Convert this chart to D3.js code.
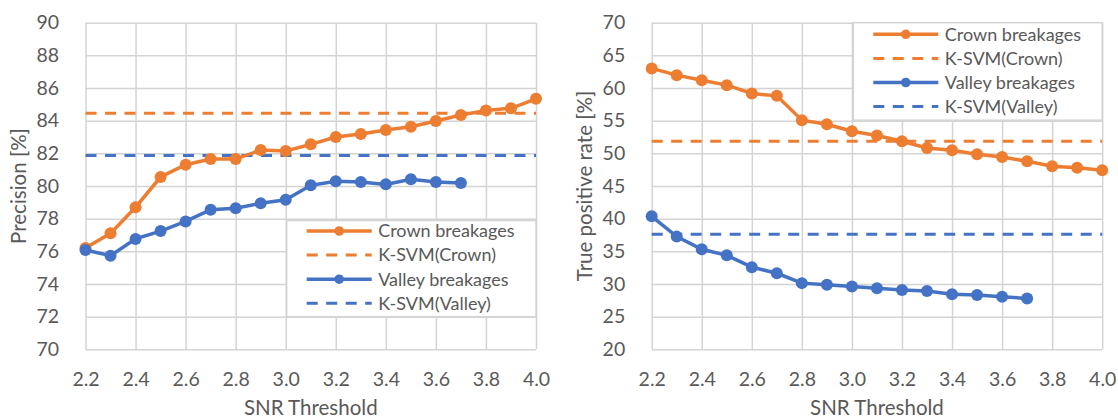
<!DOCTYPE html>
<html lang="en">
<head>
<meta charset="UTF-8" />
<title>SNR threshold</title>
<script src="https://d3js.org/d3.v7.min.js"></script>
<style>
  body { margin: 0; background: #fff; }
  text { font-family: Lato, "Noto Sans", sans-serif; fill: #595959; }
  .gridlines .domain { display: none; }
  .gridlines line { stroke: #d4d4d4; stroke-width: 1.5; }
  .labels .domain { display: none; }
</style>
</head>
<body>
<svg id="chart" width="1118" height="420"></svg>
<script>
// SNR threshold values (x)
const snr = [2.2, 2.3, 2.4, 2.5, 2.6, 2.7, 2.8, 2.9, 3.0, 3.1, 3.2, 3.3, 3.4, 3.5, 3.6, 3.7, 3.8, 3.9, 4.0];
const xTicks = [2.2, 2.4, 2.6, 2.8, 3.0, 3.2, 3.4, 3.6, 3.8, 4.0];

// precision [%]
const crownPrecision = [76.2, 77.1, 78.7, 80.55, 81.3, 81.65, 81.65, 82.2, 82.15, 82.55, 83.0, 83.18, 83.43, 83.63, 83.98, 84.35, 84.62, 84.76, 85.34];
const valleyPrecision = [76.08, 75.73, 76.76, 77.24, 77.83, 78.55, 78.64, 78.94, 79.16, 80.04, 80.29, 80.25, 80.1, 80.41, 80.25, 80.18];
const ksvmPrecision = [84.46, 81.87]; // crown, valley
const precisionTicks = [70, 72, 74, 76, 78, 80, 82, 84, 86, 88, 90];

// true positive rate [%]
const crownTpr = [63.0, 61.97, 61.2, 60.44, 59.16, 58.8, 55.07, 54.46, 53.38, 52.72, 51.85, 50.83, 50.47, 49.85, 49.44, 48.78, 48.01, 47.81, 47.4];
const valleyTpr = [40.36, 37.25, 35.32, 34.39, 32.57, 31.64, 30.13, 29.87, 29.61, 29.35, 29.09, 28.94, 28.42, 28.31, 28.05, 27.79];
const ksvmTpr = [51.85, 37.6];
const tprTicks = [20, 25, 30, 35, 40, 45, 50, 55, 60, 65, 70];

const legendNames = ["Crown breakages", "K-SVM(Crown)", "Valley breakages", "K-SVM(Valley)"];

const orange = "#ED7D31";
const blue = "#4472C4";

const svg = d3.select("svg#chart");

function drawChart(left, yTitle, yTicks, crown, valley, ksvm, legendPos) {
  const top = 22.7;
  const plotWidth = 450.5;
  const plotHeight = 326.6;

  const xScale = d3.scaleLinear().domain([2.2, 4.0]).range([0, plotWidth]);
  const yScale = d3.scaleLinear().domain(d3.extent(yTicks)).range([plotHeight, 0]);

  const g = svg.append("g").attr("transform", `translate(${left},${top})`);

  // grid
  g.append("g")
    .attr("class", "gridlines")
    .attr("transform", `translate(0,${plotHeight})`)
    .call(d3.axisBottom(xScale).tickValues(xTicks).tickSize(-plotHeight).tickFormat(""));
  g.append("g")
    .attr("class", "gridlines")
    .call(d3.axisLeft(yScale).tickValues(yTicks).tickSize(-plotWidth).tickFormat(""));

  // tick labels
  g.append("g")
    .attr("class", "labels")
    .attr("transform", `translate(0,${plotHeight})`)
    .call(d3.axisBottom(xScale).tickValues(xTicks).tickSize(0).tickPadding(22.6).tickFormat(d3.format(".1f")))
    .selectAll("text")
    .style("font-size", "19.5px")
    .attr("fill", "#595959");
  g.append("g")
    .attr("class", "labels")
    .call(d3.axisLeft(yScale).tickValues(yTicks).tickSize(0).tickPadding(26.5))
    .selectAll("text")
    .style("font-size", "19.5px")
    .attr("fill", "#595959");

  // axis titles
  g.append("text")
    .attr("x", plotWidth / 2)
    .attr("y", 415 - top)
    .attr("text-anchor", "middle")
    .style("font-size", "20.5px")
    .text("SNR Threshold");
  svg.append("text")
    .attr("transform", `translate(${left - 66.5},${top + plotHeight / 2}) rotate(-90)`)
    .attr("dy", "0.35em")
    .attr("text-anchor", "middle")
    .style("font-size", "20.5px")
    .text(yTitle);

  // dashed reference lines
  [[ksvm[0], orange], [ksvm[1], blue]].forEach(([v, c]) => {
    g.append("line")
      .attr("x1", 0)
      .attr("x2", plotWidth)
      .attr("y1", yScale(v))
      .attr("y2", yScale(v))
      .attr("stroke", c)
      .attr("stroke-width", 3)
      .attr("stroke-dasharray", "11,8.5");
  });

  // series
  const lineGen = d3.line()
    .x(d => xScale(d[0]))
    .y(d => yScale(d[1]));

  [[crown, orange], [valley, blue]].forEach(([vals, c]) => {
    const pts = vals.map((v, i) => [snr[i], v]);
    g.append("path")
      .datum(pts)
      .attr("fill", "none")
      .attr("stroke", c)
      .attr("stroke-width", 3.5)
      .attr("d", lineGen);
    g.selectAll(null).data(pts)
      .join("circle")
      .attr("cx", d => xScale(d[0]))
      .attr("cy", d => yScale(d[1]))
      .attr("r", 6)
      .attr("fill", c);
  });

  // legend
  const lg = svg.append("g").attr("transform", `translate(${legendPos.x},${legendPos.y})`);
  lg.append("rect")
    .attr("width", left + plotWidth - legendPos.x)
    .attr("height", legendPos.h)
    .attr("fill", "#fff")
    .attr("stroke", "#d4d4d4")
    .attr("stroke-width", 1.5);
  const colors = [orange, orange, blue, blue];
  legendNames.forEach((name, i) => {
    const cy = legendPos.row0 + i * 24.1;
    lg.append("line")
      .attr("x1", 20)
      .attr("x2", 85)
      .attr("y1", cy)
      .attr("y2", cy)
      .attr("stroke", colors[i])
      .attr("stroke-width", i % 2 === 0 ? 3.5 : 3)
      .attr("stroke-dasharray", i % 2 === 0 ? null : "11,8.5");
    if (i % 2 === 0) {
      lg.append("circle")
        .attr("cx", 52.5)
        .attr("cy", cy)
        .attr("r", 4.8)
        .attr("fill", colors[i]);
    }
    lg.append("text")
      .attr("x", 91.5)
      .attr("y", cy)
      .attr("dy", "0.35em")
      .style("font-size", "18px")
      .text(name);
  });
}

drawChart(85.5, "Precision [%]", precisionTicks, crownPrecision, valleyPrecision, ksvmPrecision,
  { x: 286.7, y: 220.5, h: 96.2, row0: 10.5 });
drawChart(651.7, "True positive rate [%]", tprTicks, crownTpr, valleyTpr, ksvmTpr,
  { x: 853.3, y: 22.7, h: 97.5, row0: 11.6 });
</script>
</body>
</html>
